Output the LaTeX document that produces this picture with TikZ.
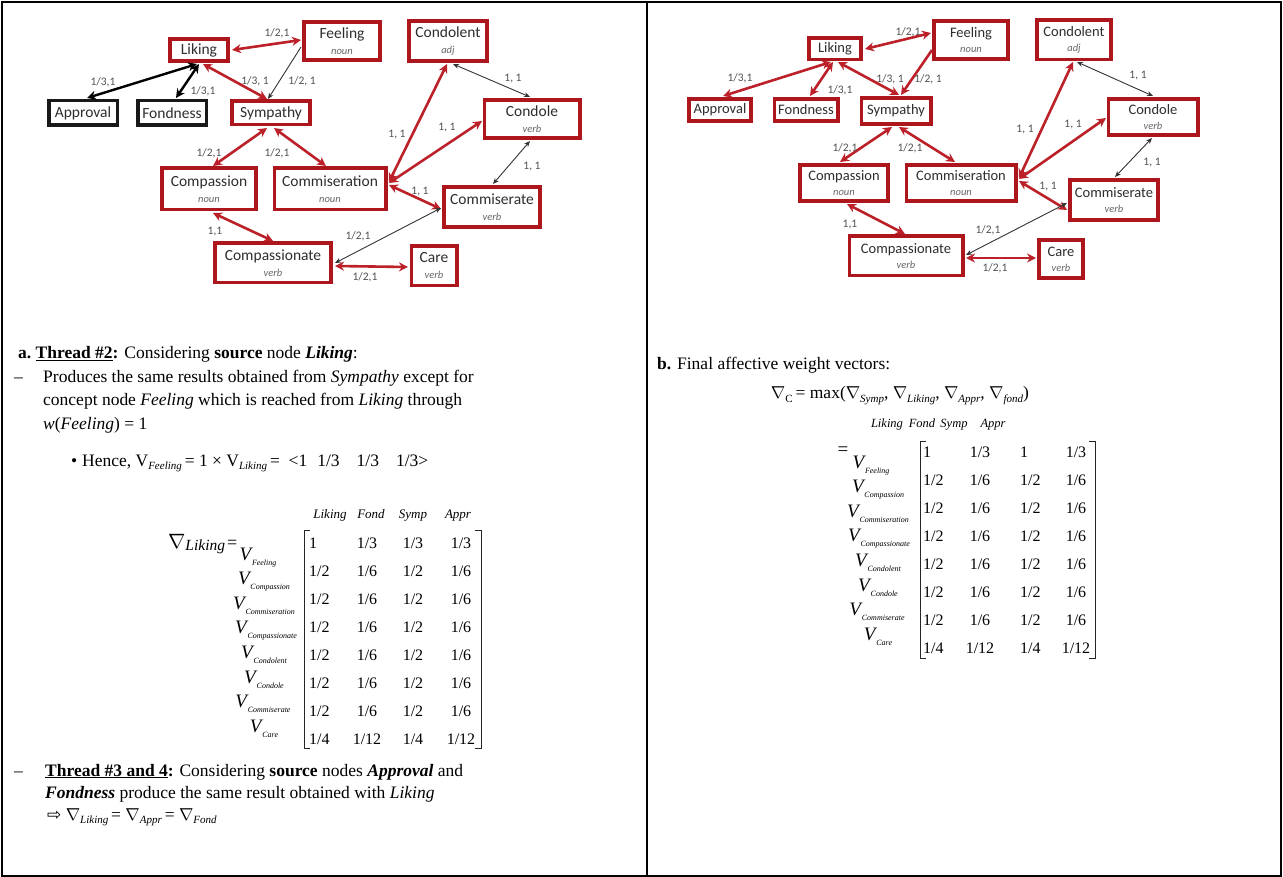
\documentclass[tikz,border=0pt]{standalone}
\usepackage{fontspec}
\setmainfont{Liberation Serif}
\newfontfamily\graphfont{Carlito}
\newfontfamily\arrowfont{DejaVu Sans}
\usetikzlibrary{arrows.meta,calc}

\definecolor{boxred}{RGB}{172,22,28}
\definecolor{linkred}{RGB}{188,32,40}
\definecolor{wgray}{RGB}{80,80,80}

% concept with part of speech underneath
\newcommand{\pos}[2]{#1\\{\fontsize{10.5}{12}\selectfont\itshape\color{black!60}#2}}
% lowered italic index
\newcommand{\idx}[1]{\raisebox{-3.5pt}{\fontsize{11}{12}\selectfont\itshape #1}}
% row label of a weight matrix
\newcommand{\vlab}[1]{\textit{V}\kern-1pt\raisebox{-5pt}{\fontsize{8}{9}\selectfont\itshape #1}}
\newcommand{\nab}{$\nabla$}

\begin{document}
\begin{tikzpicture}[x=1pt,y=-1pt,
  concept/.style={draw=boxred,line width=3.6pt,fill=white,inner sep=0pt,align=center,text=black!82},
  lnode/.style={concept,font=\graphfont\fontsize{15.5}{16}\selectfont},
  rnode/.style={concept,font=\graphfont\fontsize{14.5}{15}\selectfont},
  dark/.style={draw=black!90,line width=3.4pt},
  box/.style 2 args={minimum width=#1pt-3.6pt,minimum height=#2pt-3.6pt},
  redlink/.style={draw=linkred,line width=2.6pt,{Stealth[length=9pt,width=9pt]}-{Stealth[length=9pt,width=9pt]}},
  redone/.style={draw=linkred,line width=2.6pt,-{Stealth[length=9pt,width=9pt]}},
  blacklink/.style={draw=black,line width=2.4pt,{Stealth[length=9pt,width=9pt]}-{Stealth[length=9pt,width=9pt]}},
  thinlink/.style={draw=black!80,line width=0.9pt,{Stealth[length=6pt,width=5pt]}-{Stealth[length=6pt,width=5pt]}},
  thinone/.style={draw=black!80,line width=0.9pt,-{Stealth[length=6pt,width=5pt]}},
  weight/.style={font=\graphfont\fontsize{11.5}{12}\selectfont,text=wgray,inner sep=0pt},
  txt/.style={anchor=base west,inner sep=0pt,font=\fontsize{17.5}{21}\selectfont},
  head/.style={anchor=base,inner sep=0pt,font=\fontsize{13}{14}\selectfont\itshape},
  rhead/.style={head,font=\fontsize{12.5}{14}\selectfont\itshape},
  entry/.style={inner sep=0pt,font=\fontsize{16}{17}\selectfont},
  rowlab/.style={anchor=base,inner sep=0pt,font=\fontsize{19}{20}\selectfont},
  brack/.style={line width=0.8pt,black!85}
]
\useasboundingbox (0,0) rectangle (1283,877);

% frame of the two panels
\draw[line width=1.6pt] (2,2) rectangle (1281,876);
\draw[line width=1.6pt] (647,2) -- (647,876);

% ================= left graph =================
\node[lnode,box={62}{26}] (Llik) at (199,50) {Liking};
\node[lnode,box={80}{42}] (Lfee) at (342,41) {\pos{Feeling}{noun}};
\node[lnode,box={82}{44}] (Lcdt) at (448,41) {\pos{Condolent}{adj}};
\node[lnode,dark,box={72}{28}] (Lapp) at (83,113) {Approval};
\node[lnode,dark,box={72}{28}] (Lfon) at (172,113) {Fondness};
\node[lnode,box={82}{27}] (Lsym) at (271,113) {Sympathy};
\node[lnode,box={99}{42}] (Lcdl) at (532,119) {\pos{Condole}{verb}};
\node[lnode,box={98}{45}] (Lcps) at (209,189) {\pos{Compassion}{noun}};
\node[lnode,box={115}{45}] (Lcms) at (330,189) {\pos{Commiseration}{noun}};
\node[lnode,box={100}{44}] (Lcmt) at (492,207) {\pos{Commiserate}{verb}};
\node[lnode,box={120}{43}] (Lcpt) at (273,263) {\pos{Compassionate}{verb}};
\node[lnode,box={49}{43}] (Lcar) at (434,266) {\pos{Care}{verb}};

\draw[redlink]   ($(Llik)+(33,0)$)   -- ($(Lfee)+(-41,-1)$);
\draw[blacklink] ($(Llik)+(-2,14)$)  -- ($(Lapp)+(4,-15)$);
\draw[blacklink] ($(Llik)+(0,14)$)   -- ($(Lfon)+(4,-15)$);
\draw[redlink]   ($(Llik)+(4,14)$)   -- ($(Lsym)+(-4,-14)$);
\draw[thinone]   ($(Lfee)+(-41,6)$)  -- ($(Lsym)+(-3,-14)$);
\draw[redlink]   ($(Lsym)+(-4,15)$)  -- ($(Lcps)+(4,-23)$);
\draw[redlink]   ($(Lsym)+(3,15)$)   -- ($(Lcms)+(-4,-23)$);
\draw[redlink]   ($(Lcms)+(59,-7)$)  -- ($(Lcdt)+(-1,23)$);
\draw[redlink]   ($(Lcms)+(59,-6)$)  -- ($(Lcdl)+(-50,2)$);
\draw[thinlink]  ($(Lcdt)+(5,23)$)   -- ($(Lcdl)+(-2,-22)$);
\draw[thinlink]  ($(Lcdl)+(-2,22)$)  -- ($(Lcmt)+(1,-23)$);
\draw[redlink]   ($(Lcms)+(59,-4)$)  -- ($(Lcmt)+(-51,2)$);
\draw[redlink]   ($(Lcps)+(4,24)$)   -- ($(Lcpt)+(0,-22)$);
\draw[thinlink]  ($(Lcpt)+(62,0)$)   -- ($(Lcmt)+(-51,1)$);
\draw[redlink]   ($(Lcpt)+(62,3)$)   -- ($(Lcar)+(-26,1)$);

\node[weight] (Lw1)  at (277,33)  {1/2,1};
\node[weight] (Lw2)  at (103,82)  {1/3,1};
\node[weight] (Lw3)  at (203,91)  {1/3,1};
\node[weight] (Lw4)  at (255,81)  {1/3, 1};
\node[weight] (Lw5)  at (302,81)  {1/2, 1};
\node[weight] (Lw6)  at (209,153) {1/2,1};
\node[weight] (Lw7)  at (277,153) {1/2,1};
\node[weight] (Lw8)  at (513,79)  {1, 1};
\node[weight] (Lw9)  at (397,135) {1, 1};
\node[weight] (Lw10) at (447,128) {1, 1};
\node[weight] (Lw11) at (532,167) {1, 1};
\node[weight] (Lw12) at (420,192) {1, 1};
\node[weight] (Lw13) at (215,232) {1,1};
\node[weight] (Lw14) at (358,236) {1/2,1};
\node[weight] (Lw15) at (365,277) {1/2,1};

% ================= right graph =================
\node[rnode,box={56}{25}] (Rlik) at (835,49) {Liking};
\node[rnode,box={78}{42}] (Rfee) at (971,40) {\pos{Feeling}{noun}};
\node[rnode,box={78}{43}] (Rcdt) at (1074,40) {\pos{Condolent}{adj}};
\node[rnode,box={66}{26}] (Rapp) at (720,110) {Approval};
\node[rnode,box={67}{26}] (Rfon) at (806,110) {Fondness};
\node[rnode,box={73}{30}] (Rsym) at (896,111) {Sympathy};
\node[rnode,box={93}{40}] (Rcdl) at (1153,117) {\pos{Condole}{verb}};
\node[rnode,box={92}{40}] (Rcps) at (844,183) {\pos{Compassion}{noun}};
\node[rnode,box={113}{40}] (Rcms) at (961,183) {\pos{Commiseration}{noun}};
\node[rnode,box={92}{44}] (Rcmt) at (1114,200) {\pos{Commiserate}{verb}};
\node[rnode,box={117}{43}] (Rcpt) at (906,256) {\pos{Compassionate}{verb}};
\node[rnode,box={48}{42}] (Rcar) at (1061,259) {\pos{Care}{verb}};

\draw[redlink]  ($(Rlik)+(30,0)$)   -- ($(Rfee)+(-40,-7)$);
\draw[redlink]  ($(Rlik)+(-4,13)$)  -- ($(Rapp)+(3,-14)$);
\draw[redlink]  ($(Rlik)+(-2,13)$)  -- ($(Rfon)+(4,-14)$);
\draw[redlink]  ($(Rlik)+(3,13)$)   -- ($(Rsym)+(3,-16)$);
\draw[redone]   ($(Rfee)+(-39,10)$) -- ($(Rsym)+(5,-16)$);
\draw[redlink]  ($(Rsym)+(-4,16)$)  -- ($(Rcps)+(-4,-21)$);
\draw[redlink]  ($(Rsym)+(3,16)$)   -- ($(Rcms)+(-6,-21)$);
\draw[redlink]  ($(Rcms)+(58,-5)$)  -- ($(Rcdt)+(-1,22)$);
\draw[redlink]  ($(Rcms)+(58,-4)$)  -- ($(Rcdl)+(-47,1)$);
\draw[thinlink] ($(Rcdt)+(3,22)$)   -- ($(Rcdl)+(0,-21)$);
\draw[thinlink] ($(Rcdl)+(-1,21)$)  -- ($(Rcmt)+(1,-23)$);
\draw[redlink]  ($(Rcms)+(58,-2)$)  -- ($(Rcmt)+(-47,10)$);
\draw[redlink]  ($(Rcps)+(3,21)$)   -- ($(Rcpt)+(-1,-22)$);
\draw[thinlink] ($(Rcpt)+(60,-1)$)  -- ($(Rcmt)+(-47,3)$);
\draw[redlink]  ($(Rcpt)+(60,2)$)   -- ($(Rcar)+(-25,-1)$);

\node[weight] (Rw1)  at (908,32)   {1/2,1};
\node[weight] (Rw2)  at (740,78)   {1/3,1};
\node[weight] (Rw3)  at (840,90)   {1/3,1};
\node[weight] (Rw4)  at (890,79)   {1/3, 1};
\node[weight] (Rw5)  at (928,79)   {1/2, 1};
\node[weight] (Rw6)  at (845,148)  {1/2,1};
\node[weight] (Rw7)  at (910,148)  {1/2,1};
\node[weight] (Rw8)  at (1138,76)  {1, 1};
\node[weight] (Rw9)  at (1025,130) {1, 1};
\node[weight] (Rw10) at (1073,125) {1, 1};
\node[weight] (Rw11) at (1152,163) {1, 1};
\node[weight] (Rw12) at (1048,187) {1, 1};
\node[weight] (Rw13) at (850,225)  {1,1};
\node[weight] (Rw14) at (988,230)  {1/2,1};
\node[weight] (Rw15) at (995,268)  {1/2,1};

% ================= left text =================
\node[txt] (La1) at (18,359) {\textbf{a.~\underline{Thread \#2}:} Considering \textbf{source} node \textbf{\textit{Liking}}:};
\node[txt] (La2d) at (14,383) {–};
\node[txt] (La2) at (43,383) {Produces the same results obtained from \textit{Sympathy} except for};
\node[txt] (La3) at (43,406) {concept node \textit{Feeling} which is reached from \textit{Liking} through};
\node[txt] (La4) at (43,429) {\textit{w}(\textit{Feeling}) = 1};
\node[txt] (La5b) at (71,466) {•};
\node[txt] (La5) at (82,466) {Hence, V\idx{Feeling}\,= 1 × V\idx{Liking}\,= \ <1\hspace{10pt}1/3\hspace{17pt}1/3\hspace{17pt}1/3>};

% left matrix
\node[anchor=base west,inner sep=0pt] (LnabL) at (168,548)
  {{\fontsize{20}{22}\selectfont\nab}{\fontsize{15.5}{17}\selectfont\itshape\raisebox{-2pt}{Liking}}\kern2pt{\fontsize{18}{20}\selectfont =}};
\node[head] (Lh1) at (330,518) {Liking};
\node[head] (Lh2) at (371,518) {Fond};
\node[head] (Lh3) at (413,518) {Symp};
\node[head] (Lh4) at (458,518) {Appr};
\draw[brack] (310,530) -- (304,530) -- (304,748) -- (310,748);
\draw[brack] (475,530) -- (481,530) -- (481,748) -- (475,748);
\node[entry,anchor=base west] (Lm1a) at (309,548) {1};
\node[entry,anchor=base] (Lm1b) at (367,548) {1/3};
\node[entry,anchor=base] (Lm1c) at (413,548) {1/3};
\node[entry,anchor=base] (Lm1d) at (461,548) {1/3};
\foreach \i in {2,...,7}{
  \pgfmathsetmacro{\yy}{548+28*(\i-1)}
  \node[entry,anchor=base west] (Lm\i a) at (309,\yy) {1/2};
  \node[entry,anchor=base] (Lm\i b) at (367,\yy) {1/6};
  \node[entry,anchor=base] (Lm\i c) at (413,\yy) {1/2};
  \node[entry,anchor=base] (Lm\i d) at (461,\yy) {1/6};
}
\node[entry,anchor=base west] (Lm8a) at (309,744) {1/4};
\node[entry,anchor=base] (Lm8b) at (367,744) {1/12};
\node[entry,anchor=base] (Lm8c) at (413,744) {1/4};
\node[entry,anchor=base] (Lm8d) at (461,744) {1/12};

\node[rowlab] (Lv1) at (258,560)   {\vlab{Feeling}};
\node[rowlab] (Lv2) at (264,584.6) {\vlab{Compassion}};
\node[rowlab] (Lv3) at (264,609.2) {\vlab{Commiseration}};
\node[rowlab] (Lv4) at (266,633.8) {\vlab{Compassionate}};
\node[rowlab] (Lv5) at (264,658.4) {\vlab{Condolent}};
\node[rowlab] (Lv6) at (264,683)   {\vlab{Condole}};
\node[rowlab] (Lv7) at (263,707.6) {\vlab{Commiserate}};
\node[rowlab] (Lv8) at (264,732.2) {\vlab{Care}};

\node[txt] (Lb1d) at (14,776) {–};
\node[txt] (Lb1) at (45,776) {\textbf{\underline{Thread \#3 and 4}:} Considering \textbf{source} nodes \textbf{\textit{Approval}} and};
\node[txt] (Lb2) at (45,798) {\textbf{\textit{Fondness}} produce the same result obtained with \textit{Liking}};
\node[txt,font=\fontsize{17.5}{20}\selectfont] (Lb3) at (47,820)
  {{\arrowfont\fontsize{17}{18}\selectfont ⇨}\ \nab\idx{Liking}\,= \nab\idx{Appr}\,= \nab\idx{Fond}};

% ================= right text =================
\node[txt] (Rb1) at (657,370) {\textbf{b.} Final affective weight vectors:};
\node[anchor=base,inner sep=0pt,font=\fontsize{17.5}{21}\selectfont] (Rmax) at (900,399)
  {\nab\raisebox{-3.5pt}{\fontsize{11}{12}\selectfont C}\,= max(\nab\idx{Symp}, \nab\idx{Liking}, \nab\idx{Appr}, \nab\idx{fond})};
\node[rhead] (Rh1) at (887,427) {Liking};
\node[rhead] (Rh2) at (922,427) {Fond};
\node[rhead] (Rh3) at (954,427) {Symp};
\node[rhead] (Rh4) at (993,427) {Appr};
\node[anchor=base,inner sep=0pt,font=\fontsize{19}{20}\selectfont] (Req) at (843,455) {=};
\draw[brack] (926,441) -- (920,441) -- (920,658) -- (926,658);
\draw[brack] (1089,441) -- (1095,441) -- (1095,658) -- (1089,658);
\node[entry,anchor=base west] (Rm1a) at (923,457) {1};
\node[entry,anchor=base] (Rm1b) at (980,457) {1/3};
\node[entry,anchor=base west] (Rm1c) at (1020,457) {1};
\node[entry,anchor=base] (Rm1d) at (1076,457) {1/3};
\foreach \i in {2,...,7}{
  \pgfmathsetmacro{\yy}{457+28*(\i-1)}
  \node[entry,anchor=base west] (Rm\i a) at (923,\yy) {1/2};
  \node[entry,anchor=base] (Rm\i b) at (980,\yy) {1/6};
  \node[entry,anchor=base west] (Rm\i c) at (1020,\yy) {1/2};
  \node[entry,anchor=base] (Rm\i d) at (1076,\yy) {1/6};
}
\node[entry,anchor=base west] (Rm8a) at (923,653) {1/4};
\node[entry,anchor=base] (Rm8b) at (980,653) {1/12};
\node[entry,anchor=base west] (Rm8c) at (1020,653) {1/4};
\node[entry,anchor=base] (Rm8d) at (1076,653) {1/12};

\node[rowlab] (Rv1) at (871,468)   {\vlab{Feeling}};
\node[rowlab] (Rv2) at (878,492.6) {\vlab{Compassion}};
\node[rowlab] (Rv3) at (878,517.2) {\vlab{Commiseration}};
\node[rowlab] (Rv4) at (879,541.8) {\vlab{Compassionate}};
\node[rowlab] (Rv5) at (878,566.4) {\vlab{Condolent}};
\node[rowlab] (Rv6) at (878,591)   {\vlab{Condole}};
\node[rowlab] (Rv7) at (877,615.6) {\vlab{Commiserate}};
\node[rowlab] (Rv8) at (878,640.2) {\vlab{Care}};
\end{tikzpicture}
\end{document}
